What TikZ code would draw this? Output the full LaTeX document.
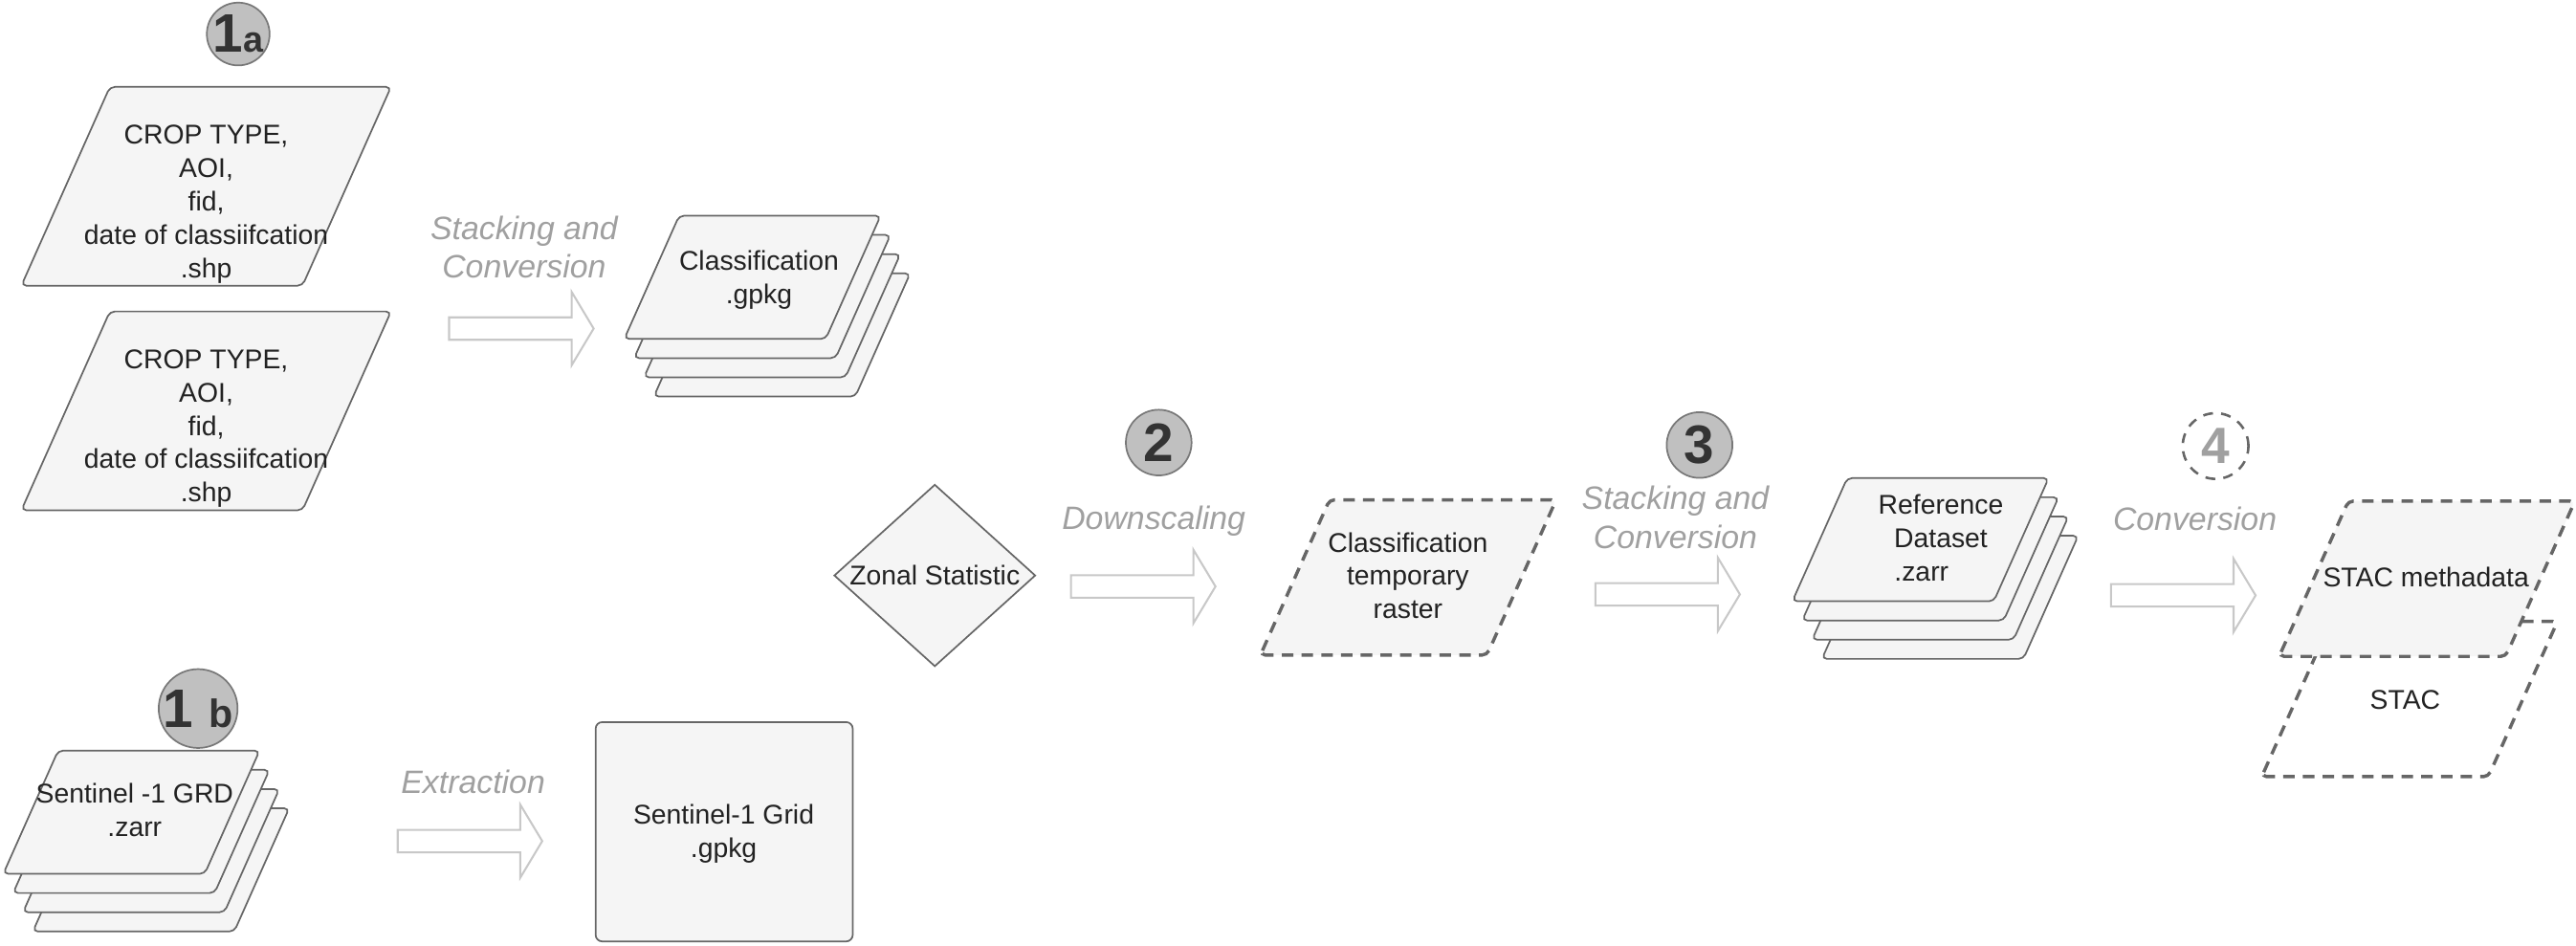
\documentclass[tikz,border=0pt]{standalone}
\usepackage{xcolor}
\usepackage{fontspec}
\setmainfont{Liberation Sans}
\usepackage{tikz}
\usetikzlibrary{shapes.geometric,shapes.arrows,positioning}

\definecolor{boxfill}{HTML}{F5F5F5}
\definecolor{boxline}{HTML}{666666}
\definecolor{boxtextcol}{HTML}{222222}
\definecolor{markfill}{HTML}{C0C0C0}
\definecolor{markline}{HTML}{787878}
\definecolor{marktext}{HTML}{333333}
\definecolor{arrowline}{HTML}{C8C8C8}
\definecolor{labeltext}{HTML}{A0A0A0}

\tikzset{
    every node/.style={inner sep=0pt},
    shapebox/.style={draw=boxline, fill=boxfill, line width=1pt},
    boxtext/.style={align=center, text=boxtextcol, font=\fontsize{16.5}{20.3}\selectfont},
    slanted/.style={shapebox, trapezium, trapezium left angle=66, trapezium right angle=114,
        trapezium stretches body, rounded corners=3pt, text depth=0pt},
    cropbox/.style={slanted, minimum width=225pt, text height=121pt},
    stackbox/.style={slanted, minimum width=156pt, text height=75pt},
    tempbox/.style={slanted, minimum width=180pt, text height=94.5pt,
        line width=2pt, dash pattern=on 7pt off 5pt},
    stepmark/.style={circle, minimum size=40pt, draw=markline, fill=markfill, line width=1pt,
        text=marktext, font=\bfseries\fontsize{33}{33}\selectfont},
    flowarrow/.style={single arrow, draw=arrowline, fill=white, line width=1.2pt,
        text height=12.5pt, text depth=0pt, minimum height=88pt,
        single arrow head extend=15.5pt, single arrow tip angle=118},
    flowlabel/.style={align=center, text=labeltext, font=\itshape\fontsize{19.7}{23.5}\selectfont}
}

\begin{document}
\begin{tikzpicture}[x=1pt, y=-1pt]
    \useasboundingbox (0,0) rectangle (1568,575.8);

    % step 1a: input shapefiles
    \node[stepmark, minimum size=37.5pt] (stepA) at (145,20.7) {1{\fontsize{22}{22}\selectfont a}};
    \node[cropbox] (cropA) at (125.5,113.4) {};
    \node[boxtext] (cropAtxt) at (125.5,124.4) {CROP TYPE,\\AOI,\\fid,\\date of classiifcation\\.shp};
    \node[cropbox] (cropB) at (125.5,250.1) {};
    \node[boxtext] (cropBtxt) at (125.5,260.9) {CROP TYPE,\\AOI,\\fid,\\date of classiifcation\\.shp};

    \node[flowarrow] (arrStack) at (315.3,200) {};
    \node[flowlabel] (stackLbl) at (319,150.3) {Stacking and\\Conversion};

    \foreach \k in {3,2,1}
        \node[stackbox] (cls\k) at (458+6*\k,168.8+11.7*\k) {};
    \node[stackbox] (cls) at (458,168.8) {};
    \node[boxtext] (clsTxt) at (462,170.3) {Classification\\.gpkg};

    % step 1b: sentinel-1 input
    \node[stepmark] (stepB) at (120.6,431.3) {1 {\fontsize{24}{24}\selectfont b}};
    \foreach \k in {3,2,1}
        \node[stackbox] (grd\k) at (80+6*\k,494.4+11.7*\k) {};
    \node[stackbox] (grd) at (80,494.4) {};
    \node[boxtext] (grdTxt) at (82,493.2) {Sentinel -1 GRD\\.zarr};

    \node[flowarrow] (arrExtract) at (284,512) {};
    \node[flowlabel] (extractLbl) at (288,476) {Extraction};

    \node[shapebox, rounded corners=4pt, minimum width=156.5pt, minimum height=133.5pt] (grid) at (440.8,506.3) {};
    \node[boxtext] (gridTxt) at (440.5,507.5) {Sentinel-1 Grid\\.gpkg};

    % step 2
    \node[shapebox, diamond, aspect=1.107, minimum width=122.6pt, minimum height=110.8pt, boxtext] (zonal) at (569,350.3) {Zonal Statistic};
    \node[stepmark] (stepTwo) at (705.3,269.4) {2};
    \node[flowarrow] (arrDown) at (693.8,357) {};
    \node[flowlabel] (downLbl) at (702.3,317.2) {Downscaling};
    \node[tempbox] (temp) at (857.2,351.5) {};
    \node[boxtext] (tempTxt) at (857,350.4) {Classification\\temporary\\raster};

    % step 3
    \node[stepmark] (stepThree) at (1034.5,270.9) {3};
    \node[flowarrow] (arrStackB) at (1013,361.8) {};
    \node[flowlabel] (stackBLbl) at (1019.8,314.9) {Stacking and\\Conversion};
    \foreach \k in {3,2,1}
        \node[stackbox] (ref\k) at (1169+6*\k,328.5+11.7*\k) {};
    \node[stackbox] (ref) at (1169,328.5) {};
    \node[boxtext] (refTxt) at (1181.4,327.3) {Reference\\Dataset\\.zarr\hspace*{23.6pt}};

    % step 4
    \node[stepmark, draw=boxline, fill=white, line width=1.5pt, dash pattern=on 6pt off 5pt,
        text=labeltext, font=\bfseries\fontsize{31}{31}\selectfont] (stepFour) at (1348.6,271.5) {4};
    \node[flowarrow] (arrConv) at (1326.9,362.4) {};
    \node[flowlabel] (convLbl) at (1336,315.6) {Conversion};
    \node[tempbox, fill=white] (stac) at (1466.7,425.5) {};
    \node[boxtext] (stacTxt) at (1464,426) {STAC};
    \node[tempbox] (meta) at (1477.3,352.3) {};
    \node[boxtext] (metaTxt) at (1476.7,351.2) {STAC methadata};
\end{tikzpicture}
\end{document}
